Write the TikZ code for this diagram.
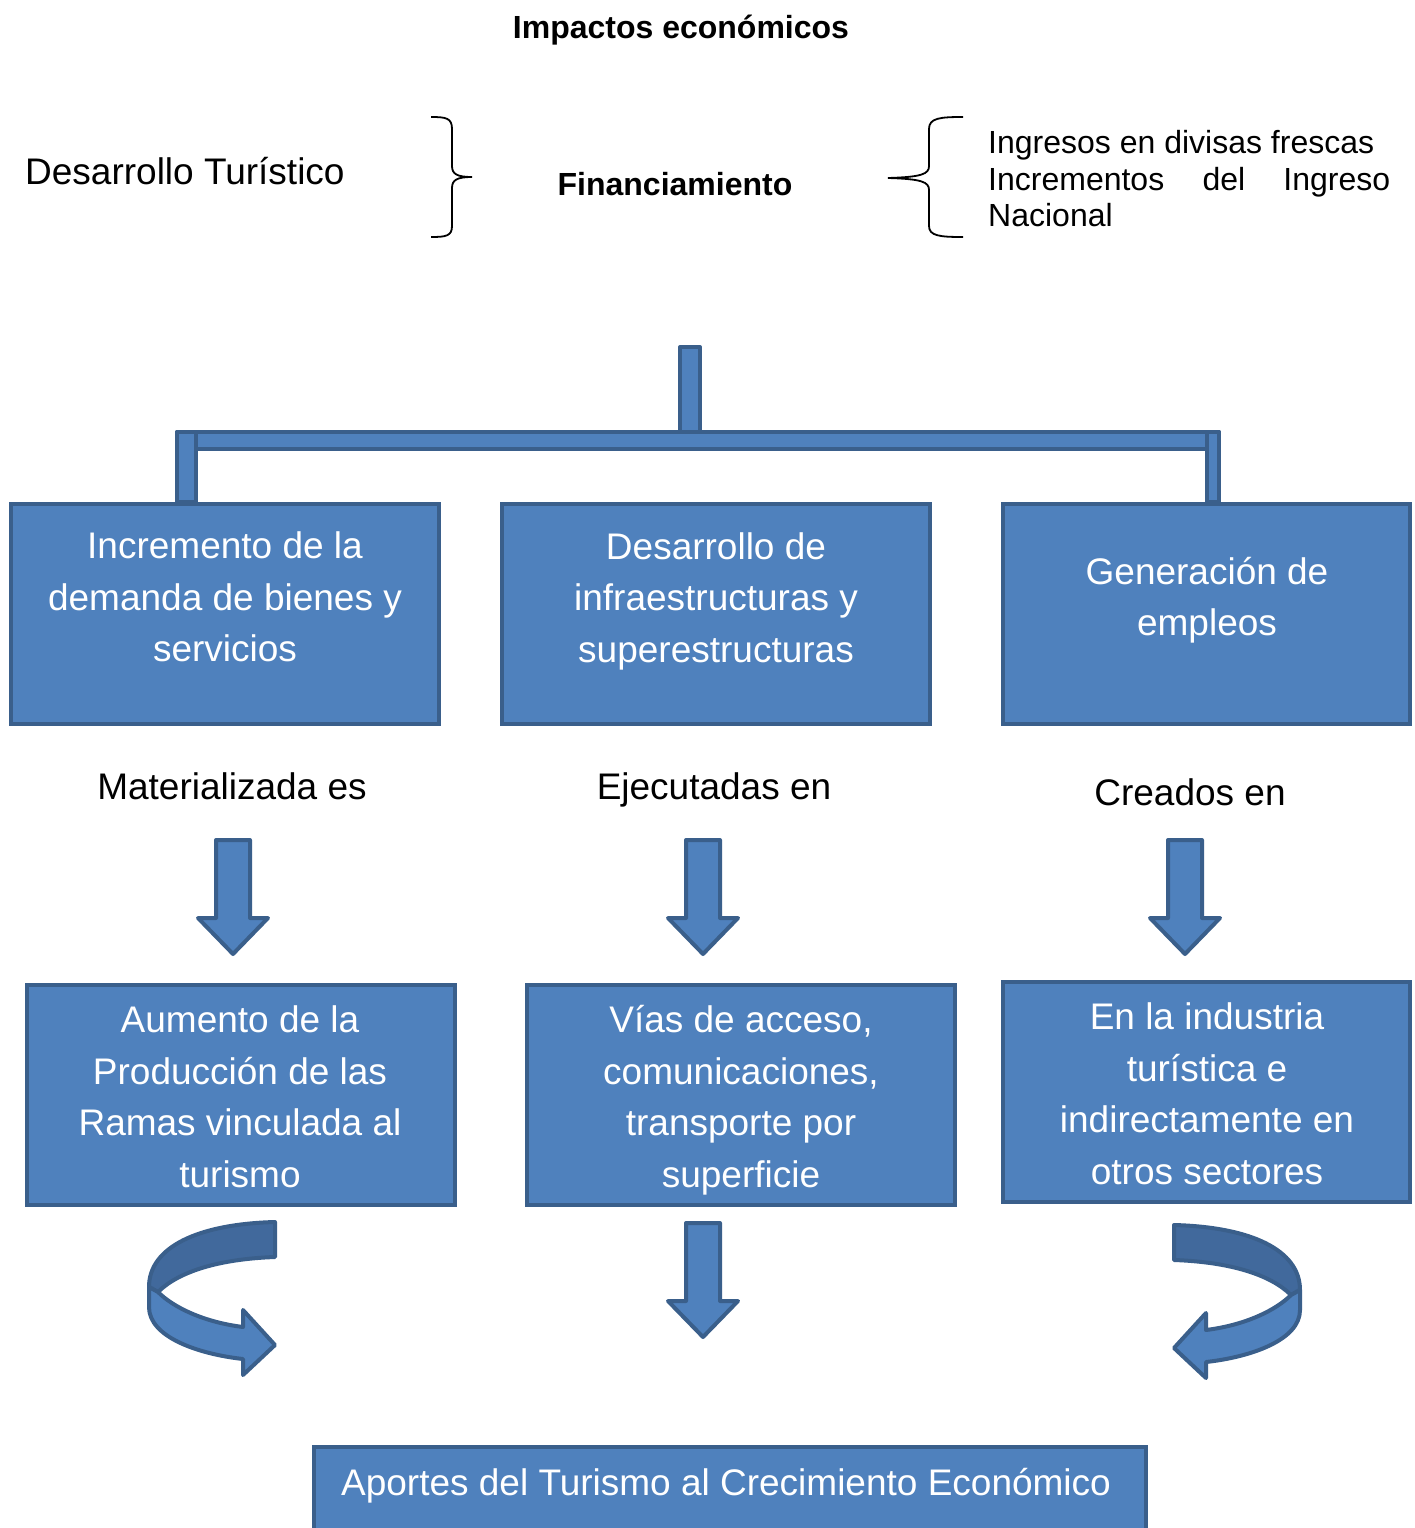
\documentclass[tikz,border=0pt]{standalone}
\usepackage{fontspec}
\setmainfont{Liberation Sans}
\definecolor{bfill}{HTML}{4F81BD}
\definecolor{bline}{HTML}{3A5F8B}
\definecolor{bdark}{HTML}{41699C}
\begin{document}
\begin{tikzpicture}[x=1pt,y=-1pt,
  box/.style={draw=bline, fill=bfill, line width=4pt, rectangle, inner sep=0pt},
  boxtext/.style={text=white, font=\fontsize{37}{51.5}\selectfont, align=center, inner sep=0pt},
  plain/.style={font=\fontsize{37}{44}\selectfont, inner sep=0pt},
  boldtxt/.style={font=\fontsize{32}{38}\selectfont\bfseries, inner sep=0pt},
  blockshape/.style={draw=bline, fill=bfill, line width=4pt, line join=round},
  bracestyle/.style={draw=black, line width=1.8pt},
  darrow/.pic={\draw[blockshape] (-17,2) -- (17,2) -- (17,80) -- (35,80) -- (0,116) -- (-35,80) -- (-17,80) -- cycle;},
  curvarrow/.pic={
    \draw[blockshape, fill=bdark] (0,0) .. controls (-77,2) and (-126,25) .. (-126,65) -- (-117,70) .. controls (-97,50) and (-57,37) .. (0,35) -- cycle;
    \draw[blockshape] (-126,65) -- (-126,85) .. controls (-126,115) and (-77,132) .. (-32,137) -- (-32,153) -- (0,123) -- (-32,88) -- (-32,105) .. controls (-72,100) and (-102,85) .. (-117,70) -- cycle;
  },
]
\useasboundingbox[fill=white] (0,0) rectangle (1414,1528);

% header
\node[boldtxt] (title) at (681,30) {Impactos económicos};
\node[plain, anchor=west] (desa) at (25,171) {Desarrollo Turístico};
\node[boldtxt] (fin) at (675,184) {Financiamiento};
\node[font=\fontsize{32}{36.5}\selectfont, align=left, inner sep=0pt, anchor=west] (ing) at (988,179)
  {Ingresos en divisas frescas\\\hbox to 402pt{Incrementos\hfill del\hfill Ingreso}\\Nacional};

% braces
\draw[bracestyle] (431,117) .. controls (446,117) and (452,118) .. (452,129) -- (452,166)
  .. controls (452,174) and (457,177) .. (472,177)
  .. controls (457,177) and (452,180) .. (452,188) -- (452,226)
  .. controls (452,236) and (446,237) .. (431,237);
\draw[bracestyle] (963,117) .. controls (940,117) and (929,118) .. (929,129) -- (929,166)
  .. controls (929,174) and (922,177) .. (888,178)
  .. controls (922,179) and (929,182) .. (929,190) -- (929,226)
  .. controls (929,236) and (940,237) .. (963,237);

% first row boxes
\node[box, minimum width=428, minimum height=220] (A) at (225,614) {};
\node[box, minimum width=428, minimum height=220] (B) at (716,614) {};
\node[box, minimum width=407, minimum height=220] (C) at (1206.5,614) {};
\node[boxtext] (At) at (225,597) {Incremento de la\\demanda de bienes y\\servicios};
\node[boxtext] (Bt) at (716,601) {Desarrollo de\\infraestructuras y\\superestructuras};
\node[boxtext] (Ct) at (1207,600) {Generación de\\empleos};

% hierarchy connector
\coordinate (stemtop) at (690,347);
\draw[blockshape] (177,432) rectangle (1219,449);
\draw[blockshape] (177,432) rectangle (196,0 |- A.north);
\draw[blockshape] (1207,432) rectangle (1219,0 |- C.north);
\draw[blockshape] (stemtop -| 680,0) rectangle (700,432);

% labels
\node[plain] (lA) at (232,786) {Materializada es};
\node[plain] (lB) at (714,790) {Ejecutadas en};
\node[plain] (lC) at (1190,792) {Creados en};

% down arrows
\pic (arA) at (233,838) {darrow};
\pic (arB) at (703,838) {darrow};
\pic (arC) at (1185,838) {darrow};

% second row boxes
\node[box, minimum width=428, minimum height=220] (D) at (241,1095) {};
\node[box, minimum width=428, minimum height=220] (E) at (741,1095) {};
\node[box, minimum width=407, minimum height=220] (F) at (1206.5,1092) {};
\node[boxtext] (Dt) at (240,1097) {Aumento de la\\Producción de las\\Ramas vinculada al\\turismo};
\node[boxtext] (Et) at (741,1100) {Vías de acceso,\\comunicaciones,\\transporte por\\superficie};
\node[boxtext] (Ft) at (1207,1094) {En la industria\\turística e\\indirectamente en\\otros sectores};

% lower arrows
\pic (cvL) at (275,1222) {curvarrow};
\pic (arE) at (703,1221) {darrow};
\pic[xscale=-1] (cvR) at (1174,1225) {curvarrow};

% final box
\node[box, minimum width=832, minimum height=110] (G) at (730,1502) {};
\node[boxtext] (Gt) at (726,1486) {Aportes del Turismo al Crecimiento Económico};
\end{tikzpicture}
\end{document}
